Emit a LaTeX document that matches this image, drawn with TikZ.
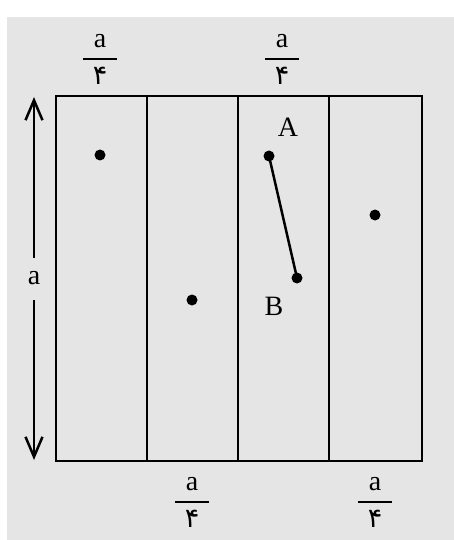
\documentclass[tikz,border=0pt]{standalone}
\usepackage{fontspec}
\setmainfont{Liberation Serif}
\newfontfamily\arabicfont[Script=Arabic]{DejaVu Sans}
\TeXXeTstate=1
\usetikzlibrary{arrows.meta}
\definecolor{bgmarble}{RGB}{229,229,229}
\tikzset{
  lbl/.style={inner sep=0pt, font=\fontsize{28}{30}\selectfont},
  den/.style={inner sep=0pt, font=\arabicfont\fontsize{27}{30}\selectfont},
  bar/.style={line width=1.5pt},
  frame/.style={line width=2.5pt, line join=miter},
  dot/.style={circle, fill=black, inner sep=0pt, minimum size=11pt},
  seg/.style={line width=2.5pt},
  dim/.style={line width=2.5pt, -{Straight Barb[length=20pt,width=17pt,line width=2.5pt]}}
}
\newcommand{\myfrac}[3]{%
  \node[lbl] (#1n) at (#2,#3-18) {a};
  \node[den] (#1d) at (#2,#3+17) {\beginR ۴\endR};
  \coordinate (#1l) at (#2-17,#3);
  \coordinate (#1r) at (#2+17,#3);
  \draw[bar] (#1l) -- (#1r);
}
\begin{document}
\begin{tikzpicture}[x=1pt,y=-1pt]
\useasboundingbox (0,0) rectangle (454,540);
\fill[bgmarble] (7,17) rectangle (454,540);
% frame
\coordinate (tl) at (56,96);
\coordinate (br) at (422,461);
\draw[frame] (tl) rectangle (br);
\coordinate (v1t) at (147,96); \coordinate (v1b) at (147,461);
\coordinate (v2t) at (238,96); \coordinate (v2b) at (238,461);
\coordinate (v3t) at (329,96); \coordinate (v3b) at (329,461);
\draw[frame] (v1t) -- (v1b);
\draw[frame] (v2t) -- (v2b);
\draw[frame] (v3t) -- (v3b);
% fractions
\myfrac{ft1}{100}{59}
\myfrac{ft2}{282}{59}
\myfrac{fb1}{192}{502}
\myfrac{fb2}{375}{502}
% dimension arrow
\node[lbl] (da) at (34,278) {a};
\coordinate (dgt) at (34,258);
\coordinate (dgb) at (34,300);
\coordinate (dtop) at (34,97);
\coordinate (dbot) at (34,460);
\draw[dim] (dgt) -- (dtop);
\draw[dim] (dgb) -- (dbot);
% dots
\node[dot] (p1) at (100,155) {};
\node[dot] (p2) at (192,300) {};
\node[dot] (pA) at (269,156) {};
\node[dot] (pB) at (297,278) {};
\node[dot] (p5) at (375,215) {};
\draw[seg] (pA.center) -- (pB.center);
\node[lbl] (lA) at (288,127) {A};
\node[lbl] (lB) at (274,306) {B};
\end{tikzpicture}
\end{document}
